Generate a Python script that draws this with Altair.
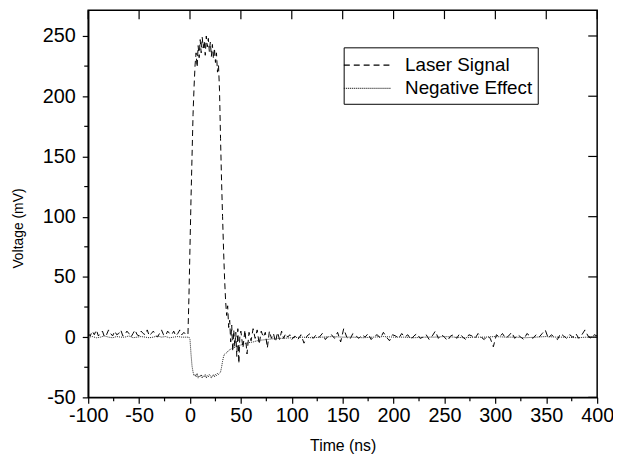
import altair as alt
import pandas as pd

# ---------------- data ----------------
series_names = ["Laser Signal", "Negative Effect"]

laser_t = [
    -100, -98, -96, -94, -92, -90, -88, -86, -84, -82, -80, -78, -76, -74, -72, -70, -68,
    -66, -64, -62, -60, -58, -56, -54, -52, -50, -48, -46, -44, -42, -40, -38, -36, -34,
    -32, -30, -28, -26, -24, -22, -20, -18, -16, -14, -12, -10, -8, -6, -4,
    -2, -1, 0, 1, 2, 3, 4, 5, 6, 7, 8, 9, 10, 11, 12, 13, 14, 15, 16, 17, 18, 19, 20,
    21, 22, 23, 24, 25, 26, 27, 28, 29, 30, 31, 32, 33, 34, 35, 36, 37, 38, 39, 40,
    41, 42, 43, 44, 45, 46, 47, 48, 49, 50, 52, 54, 56, 58, 60, 62, 64, 66, 68, 70,
    72, 74, 76, 78, 80, 82, 84, 86, 88, 90, 92, 94, 96, 98, 100,
    103, 106, 109, 112, 115, 118, 121, 124, 127, 130, 133, 136, 139, 142, 145, 148,
    151, 154, 157, 160, 163, 166, 169, 172, 175, 178, 181, 184, 187, 190, 193, 196,
    199, 202, 205, 208, 211, 214, 217, 220, 223, 226, 229, 232, 235, 238, 241, 244,
    247, 250, 253, 256, 259, 262, 265, 268, 271, 274, 277, 280, 283, 286, 289, 292,
    295, 298, 301, 304, 307, 310, 313, 316, 319, 322, 325, 328, 331, 334, 337, 340,
    343, 346, 349, 352, 355, 358, 361, 364, 367, 370, 373, 376, 379, 382, 385, 388,
    391, 394, 397, 400,
]
laser_v = [
    3, 1, 5, 2, 6, 1, 3, 5, 0, 2, 6, 3, 1, 5, 2, 3, 6,
    1, 2, 5, 3, 0, 3, 6, 2, 1, 5, 3, 2, 6, 1, 3, 5, 2,
    0, 3, 6, 2, 1, 5, 3, 2, 5, 1, 3, 6, 2, 4, 2,
    2, 35, 75, 115, 150, 185, 208, 226, 236, 224, 242, 232, 247, 236, 249, 240, 246, 234, 250, 241, 248, 237, 245,
    233, 243, 231, 240, 228, 236, 220, 226, 205, 165, 130, 100, 72, 48, 30, 18, 26, 8, 14, -4,
    10, -12, 6, -8, 4, -16, 7, -22, 2, 5, -9, 6, -14, 4, -3, 7, -1, 6, -6, 5,
    0, 4, -9, 5, -1, 3, -4, 4, -2, 5, -1, 3, 0, 2, -2,
    1, -2, 2, -5, 1, 3, -1, 2, 0, 3, -2, 1, 2, -1, 4, -4,
    7, 0, -2, 3, 1, -1, 2, 0, 3, -2, 1, 2, -1, 4, 0, -3,
    2, 1, -1, 3, 0, 2, -2, 1, 3, -1, 0, 2, -2, 1, 5, -1,
    2, 0, -3, 1, 2, -1, 3, 0, -2, 2, 1, -1, 3, 0, -2, 1,
    -1, -8, 2, 0, 3, -1, 1, 4, -1, 2, 0, -2, 3, 1, -1, 2,
    0, 3, 6, -1, 2, 0, -2, 3, 1, -1, 2, 0, 3, -1, 2, 6,
    1, -1, 2, 1,
]

neg_t = [
    -100, -96, -92, -88, -84, -80, -76, -72, -68, -64, -60, -56, -52, -48, -44, -40,
    -36, -32, -28, -24, -20, -16, -12, -8, -4,
    -2, -1, 0, 1, 2, 3, 4, 5, 6, 7, 8, 9, 10, 11, 12, 13, 14, 15, 16, 17, 18, 19, 20,
    21, 22, 23, 24, 25, 26, 27, 28, 29, 30, 31, 32, 33, 34, 36, 38, 40, 42, 44, 46,
    48, 50, 54, 58, 62, 66, 70, 75, 80, 86, 92, 100,
    110, 120, 130, 140, 150, 160, 170, 180, 190, 200, 210, 220, 230, 240, 250, 260,
    270, 280, 290, 300, 310, 320, 330, 340, 350, 360, 370, 380, 390, 400,
]
neg_v = [
    0, 0.5, -0.5, 0, 1, 0, -0.5, 0.5, 0, 0, 1, -0.5, 0, 0.5, 0, -0.5,
    0, 1, 0, 0.5, -0.5, 0, 0.5, 0, 0,
    0, 0, -2, -14, -24, -29, -32, -31, -33, -30, -34, -32, -33, -31, -34, -32, -33, -31, -34, -32, -33, -31, -32,
    -34, -32, -31, -33, -31, -32, -30, -31, -30, -29, -25, -20, -16, -14, -13, -11, -10, -9, -8.5, -7.5,
    -7, -6.5, -5.5, -4.5, -4, -3, -2.5, -2, -1.5, -1, -1, -0.5,
    0, -0.5, 0, 0.5, 0, 0, -0.5, 0, 0.5, 0, 0, -0.5, 0, 0, 0.5, 0,
    -0.5, 0, 0, 0.5, 0, 0, -0.5, 0, 0.5, 0, 0, -0.5, 0, 0,
]

x_major = [-100, -50, 0, 50, 100, 150, 200, 250, 300, 350, 400]
x_minor = [-75, -25, 25, 75, 125, 175, 225, 275, 325, 375]
y_major = [-50, 0, 50, 100, 150, 200, 250]
y_minor = [-25, 25, 75, 125, 175, 225]

X_DOMAIN = [-100, 400]
Y_DOMAIN = [-50, 271.4]
W, H = 514, 391
FONT = "Liberation Sans"

# ---------------- tables ----------------
df = pd.concat([
    pd.DataFrame({"t": laser_t, "v": laser_v, "series": series_names[0]}),
    pd.DataFrame({"t": neg_t, "v": neg_v, "series": series_names[1]}),
], ignore_index=True)
xmaj_df = pd.DataFrame({"t": x_major})
xmin_df = pd.DataFrame({"t": x_minor})
ymaj_df = pd.DataFrame({"v": y_major})
ymin_df = pd.DataFrame({"v": y_minor})

xs = alt.Scale(domain=X_DOMAIN, nice=False, zero=False)
ys = alt.Scale(domain=Y_DOMAIN, nice=False, zero=False)

legend = alt.Legend(
    title=None, orient="none", legendX=258, legendY=37.5,
    strokeColor="black", fillColor="white", padding=5,
    symbolType="M-2.4,0H1.6", symbolSize=576, symbolStrokeWidth=1.2,
    symbolOffset=11, labelOffset=20, rowPadding=0.5,
    labelFont=FONT, labelFontSize=19, labelColor="black",
)

x_axis = alt.Axis(
    values=x_major, title="Time (ns)", labelExpr="'' + datum.value",
    labelFont=FONT, labelFontSize=20, labelColor="black",
    titleFont=FONT, titleFontSize=16, titleFontWeight="normal", titleColor="black",
    titlePadding=13, tickSize=6, tickColor="black", tickWidth=1.2,
    domainColor="black", domainWidth=1.5, labelPadding=2, grid=False,
    labelFlush=False,
)
y_axis = alt.Axis(
    values=y_major, title="Voltage (mV)", labelExpr="'' + datum.value",
    labelFont=FONT, labelFontSize=20, labelColor="black",
    titleFont=FONT, titleFontSize=14, titleFontWeight="normal", titleColor="black",
    titleX=-63, titleY=220, tickSize=6, tickColor="black", tickWidth=1.2,
    domainColor="black", domainWidth=1.5, labelPadding=7, grid=False,
    labelFlush=False,
)

lines = alt.Chart(df).mark_line(strokeWidth=1, clip=True).encode(
    x=alt.X("t:Q", scale=xs, axis=x_axis),
    y=alt.Y("v:Q", scale=ys, axis=y_axis),
    color=alt.Color("series:N", scale=alt.Scale(domain=series_names, range=["#000000", "#222222"]), legend=legend),
    strokeDash=alt.StrokeDash("series:N", scale=alt.Scale(domain=series_names, range=[[6, 4], [1, 1]]), legend=legend),
)

tick_style = dict(color="black", strokeWidth=1.2, clip=False)
xminor_ticks = alt.Chart(xmin_df).mark_rule(**tick_style).encode(
    x=alt.X("t:Q", scale=xs), y=alt.value(H), y2=alt.value(H + 4))
xtop_ticks = alt.Chart(xmaj_df).mark_rule(**tick_style).encode(
    x=alt.X("t:Q", scale=xs), y=alt.value(0), y2=alt.value(9))
yminor_ticks = alt.Chart(ymin_df).mark_rule(**tick_style).encode(
    y=alt.Y("v:Q", scale=ys), x=alt.value(-4), x2=alt.value(0))
yright_ticks = alt.Chart(ymaj_df).mark_rule(**tick_style).encode(
    y=alt.Y("v:Q", scale=ys), x=alt.value(W - 9), x2=alt.value(W))

chart = alt.layer(lines, xminor_ticks, xtop_ticks, yminor_ticks, yright_ticks).properties(
    width=W, height=H,
    autosize=alt.AutoSizeParams(type="none"),
    padding={"left": 81, "top": 0, "right": 16, "bottom": 60},
    background="white",
).configure_view(stroke="black", strokeWidth=1.5)

chart.save("out.html", embed_options={"renderer": "svg", "actions": False})
